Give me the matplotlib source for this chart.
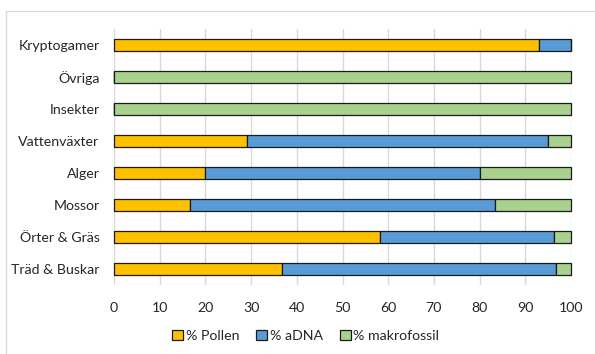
import matplotlib.pyplot as plt
from matplotlib.patches import Rectangle

plt.rcParams['font.family'] = ['Lato', 'DejaVu Sans']

kategorier = ['Kryptogamer', 'Övriga', 'Insekter', 'Vattenväxter',
              'Alger', 'Mossor', 'Örter & Gräs', 'Träd & Buskar']
pollen = [92.9, 0, 0, 29.2, 20.0, 16.7, 58.3, 36.7]
adna = [7.1, 0, 0, 65.8, 60.0, 66.6, 37.9, 60.1]
makrofossil = [0, 100, 100, 5.0, 20.0, 16.7, 3.8, 3.2]

serier = ['% Pollen', '% aDNA', '% makrofossil']
farger = ['#FFC000', '#5B9BD5', '#A9D18E']

fig = plt.figure(figsize=(5.95, 3.54), dpi=100)
ax = fig.add_axes([114 / 595, 69 / 354, 457 / 595, 256 / 354])

# ram runt diagrammet
fig.patches.append(Rectangle((6 / 595, -0.1), 1.2, (343 / 354) + 0.1,
                             transform=fig.transFigure, fill=False,
                             edgecolor='#d9d9d9', linewidth=1))

y = list(range(len(kategorier)))
vanster = [0] * len(kategorier)
for namn, varden, farg in zip(serier, [pollen, adna, makrofossil], farger):
    staplar = ax.barh(y, varden, left=vanster, height=0.4, color=farg,
                      edgecolor='#1a1a1a', linewidth=0.9, label=namn, zorder=3)
    for st in staplar:
        st.set_clip_on(False)
    vanster = [a + b for a, b in zip(vanster, varden)]

ax.set_yticks(y)
ax.set_yticklabels(kategorier, fontsize=10.2, color='#262626')
ax.set_ylim(len(kategorier) - 0.5, -0.5)
ax.set_xlim(0, 100)
ax.set_xticks(range(0, 101, 10))
ax.tick_params(axis='x', labelsize=10.2, labelcolor='#262626', length=0, pad=12)
ax.tick_params(axis='y', length=0, pad=10.5)
ax.grid(axis='x', color='#d9d9d9', linewidth=1, zorder=0)
for s in ax.spines.values():
    s.set_visible(False)

fig.legend(*ax.get_legend_handles_labels(), loc='center',
           bbox_to_anchor=(306 / 595, 18 / 354), ncol=3, frameon=False,
           fontsize=10.2, handlelength=0.75, handleheight=0.75, handletextpad=0.2,
           columnspacing=1.2, labelcolor='#262626')

fig.savefig('out.png', dpi=100)
